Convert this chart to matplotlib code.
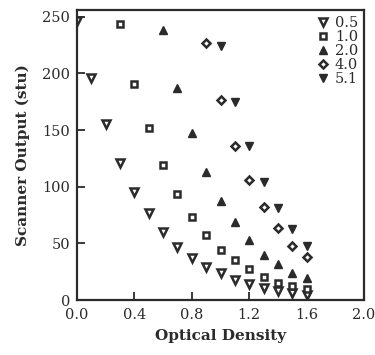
import numpy as np
import matplotlib.pyplot as plt

plt.rcParams['font.family'] = 'DejaVu Serif'

# optical density steps (0.1 apart) for each exposure series
od_05 = [0.0, 0.1, 0.2, 0.3, 0.4, 0.5, 0.6, 0.7, 0.8, 0.9, 1.0, 1.1, 1.2, 1.3, 1.4, 1.5, 1.6]
out_05 = [246, 196, 155, 121, 95, 77, 60, 47, 37, 29, 24, 18, 14, 11, 8, 6, 4]

od_10 = [0.3, 0.4, 0.5, 0.6, 0.7, 0.8, 0.9, 1.0, 1.1, 1.2, 1.3, 1.4, 1.5, 1.6]
out_10 = [244, 191, 152, 119, 94, 73, 57, 44, 35, 27, 20, 15, 12, 10]

od_20 = [0.6, 0.7, 0.8, 0.9, 1.0, 1.1, 1.2, 1.3, 1.4, 1.5, 1.6]
out_20 = [238, 187, 147, 113, 87, 69, 53, 40, 32, 24, 19]

od_40 = [0.9, 1.0, 1.1, 1.2, 1.3, 1.4, 1.5, 1.6]
out_40 = [227, 177, 136, 106, 82, 64, 48, 38]

od_51 = [1.0, 1.1, 1.2, 1.3, 1.4, 1.5, 1.6]
out_51 = [224, 175, 136, 104, 81, 63, 48]

labels = ['0.5', '1.0', '2.0', '4.0', '5.1']
ink = '#2b2b2b'

fig = plt.figure(figsize=(3.75, 3.55), dpi=100)
ax = fig.add_axes([0.2053, 0.1549, 0.7654, 0.8169])

ax.plot(od_05, out_05, 'v', ms=5.5, mfc='white', mec=ink, mew=1.8, ls='none', label=labels[0])
ax.plot(od_10, out_10, 's', ms=5, mfc='white', mec=ink, mew=1.8, ls='none', label=labels[1])
ax.plot(od_20, out_20, '^', ms=6, mfc=ink, mec=ink, ls='none', label=labels[2])
ax.plot(od_40, out_40, 'D', ms=4.5, mfc='white', mec=ink, mew=1.8, ls='none', label=labels[3])
ax.plot(od_51, out_51, 'v', ms=6, mfc=ink, mec=ink, ls='none', label=labels[4])

ax.set_xlim(0, 2.0)
ax.set_ylim(0, 256)
ax.set_xticks(np.arange(0, 2.01, 0.4))
ax.set_xticklabels(['0.0', '0.4', '0.8', '1.2', '1.6', '2.0'])
ax.set_yticks(np.arange(0, 251, 50))
ax.tick_params(direction='in', length=6, width=1.3, labelsize=10.5, colors=ink)
ax.tick_params(axis='x', pad=6)
ax.tick_params(axis='y', pad=5)
for s in ax.spines.values():
    s.set_linewidth(1.6)
    s.set_color(ink)

ax.set_xlabel('Optical Density', fontsize=11, fontweight='bold', color=ink, labelpad=5)
ax.set_ylabel('Scanner Output (stu)', fontsize=11, fontweight='bold', color=ink, labelpad=9)

leg = ax.legend(loc='upper right', frameon=False, fontsize=10.5, handletextpad=0.3,
                labelspacing=0.0, borderaxespad=0.2, handlelength=1.0,
                borderpad=0.2)
for t in leg.get_texts():
    t.set_color(ink)

fig.savefig('out.png', dpi=100, facecolor='white')
